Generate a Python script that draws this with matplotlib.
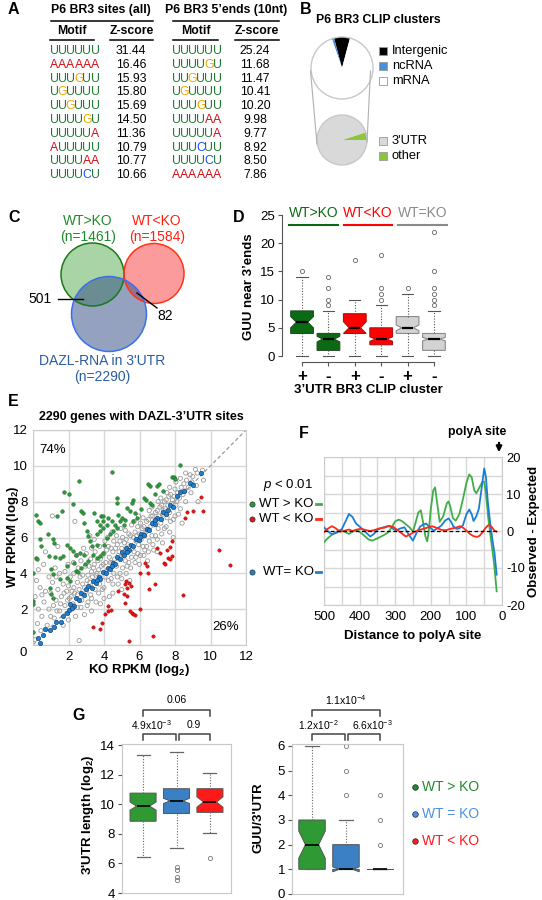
import numpy as np
import matplotlib
matplotlib.use('Agg')
import matplotlib.pyplot as plt
from matplotlib.patches import Circle, Rectangle

plt.rcParams['font.family'] = ['Liberation Sans', 'DejaVu Sans']
plt.rcParams['mathtext.fontset'] = 'custom'
plt.rcParams['mathtext.rm'] = 'Liberation Sans'
plt.rcParams['mathtext.it'] = 'Liberation Sans:italic'
plt.rcParams['mathtext.bf'] = 'Liberation Sans:bold'

W, H = 542, 900

# ---------------- data ----------------
# A : motif tables
motifs_all = ['UUUUUU', 'AAAAAA', 'UUUGUU', 'UGUUUU', 'UUGUUU', 'UUUUGU', 'UUUUUA', 'AUUUUU', 'UUUUAA', 'UUUUCU']
z_all = [31.44, 16.46, 15.93, 15.80, 15.69, 14.50, 11.36, 10.79, 10.77, 10.66]
motifs_5p = ['UUUUUU', 'UUUUGU', 'UUGUUU', 'UGUUUU', 'UUUGUU', 'UUUUAA', 'UUUUUA', 'UUUCUU', 'UUUUCU', 'AAAAAA']
z_5p = [25.24, 11.68, 11.47, 10.41, 10.20, 9.98, 9.77, 8.92, 8.50, 7.86]
nt_colors = {'U': '#1e7b34', 'A': '#d0101a', 'G': '#f0a800', 'C': '#1a4cff'}

# B : pies
pie1_labels = ['Intergenic', 'ncRNA', 'mRNA']
pie1_vals = [8.3, 1.2, 90.5]
pie1_cols = ['#000000', '#4a8fd8', '#ffffff']
pie2_labels = ["3'UTR", 'other']
pie2_vals = [95.0, 5.0]
pie2_cols = ['#d9d9d9', '#8cc63e']

# C : venn
venn_labels = ['WT>KO\n(n=1461)', 'WT<KO\n(n=1584)', "DAZL-RNA in 3'UTR\n(n=2290)"]
venn_overlaps = ['501', '82']

# D : GUU near 3' ends
d_groups = ['WT>KO', 'WT<KO', 'WT=KO']
d_ticklabels = ['+', '-', '+', '-', '+', '-']
d_med = [6, 3, 5, 3, 5, 3]
d_q1 = [4, 1, 4, 2, 4, 1]
d_q3 = [8, 4, 7.5, 5, 7, 4]
d_lo = [0, 0, 0, 0, 0, 0]
d_hi = [14, 8, 10, 9, 11, 8]
d_cilo = [5.0, 2.5, 4.0, 2.6, 4.5, 2.7]
d_cihi = [7.0, 3.5, 6.1, 3.4, 5.5, 3.3]
d_fliers = [[15], [9, 10, 12, 14], [17], [10, 11, 12, 18], [12], [9, 10, 11, 12, 15, 22]]

# E : scatter WT vs KO (log2 RPKM)
grey_pts = [
    (0.1, 0.3), (0.25, 1.2), (0.3, 2.0), (0.12, 2.7), (0.4, 3.2), (0.2, 3.6), (0.5, 1.6), (0.62, 2.4),
    (0.7, 3.0), (0.8, 1.1), (0.9, 2.0), (1.0, 2.9), (1.1, 3.5), (1.2, 1.5), (1.3, 2.5), (1.4, 3.1),
    (1.5, 1.9), (1.6, 2.7), (1.7, 3.4), (1.8, 2.2), (1.9, 3.0), (1.5, 4.0), (1.25, 4.3), (0.9, 3.8),
    (0.3, 4.2), (0.6, 4.5), (1.8, 4.1), (2.0, 1.4), (2.2, 2.0), (2.4, 1.6), (2.7, 2.1), (2.9, 1.7),
    (3.1, 2.4), (2.6, 0.25), (2.3, 3.2), (2.1, 3.8), (2.5, 2.8), (2.8, 3.4), (2.36, 6.9), (1.09, 7.2),
    (0.7, 5.2), (1.4, 5.5),
    (2.05, 2.6), (1.97, 4.5), (2.25, 2.3), (2.2, 3.0), (2.3, 4.0), (2.28, 4.6),
    (2.5, 3.5), (2.55, 4.3), (2.45, 5.0), (2.75, 2.5), (2.8, 3.9), (2.7, 4.7), (2.85, 5.4),
    (3.0, 3.0), (3.05, 3.6), (2.95, 4.4), (3.0, 5.1), (3.05, 2.2),
    (3.25, 2.8), (3.2, 3.5), (3.3, 4.1), (3.25, 4.8), (3.3, 5.4), (3.2, 6.1),
    (3.5, 3.1), (3.55, 3.9), (3.45, 4.5), (3.5, 5.2), (3.55, 2.4), (3.45, 5.9),
    (3.75, 3.4), (3.7, 4.2), (3.8, 4.8), (3.75, 5.5), (3.7, 2.9),
    (4.0, 3.2), (4.05, 3.8), (3.95, 4.5), (4.0, 5.1), (4.05, 5.8), (4.0, 2.6),
    (4.25, 3.6), (4.2, 4.2), (4.3, 4.9), (4.25, 5.5), (4.2, 6.0),
    (4.5, 3.4), (4.55, 4.0), (4.45, 4.6), (4.5, 5.2), (4.55, 5.8), (4.45, 6.3), (4.5, 2.9),
    (4.75, 3.8), (4.7, 4.4), (4.8, 5.0), (4.75, 5.6), (4.7, 6.1),
    (5.0, 3.7), (5.05, 4.3), (4.95, 4.9), (5.0, 5.4), (5.05, 6.0), (4.95, 6.5), (5.0, 3.1),
    (5.25, 4.0), (5.2, 4.7), (5.3, 5.3), (5.25, 5.9), (5.2, 6.4),
    (5.5, 4.3), (5.55, 4.9), (5.45, 5.5), (5.5, 6.1), (5.55, 6.7), (5.45, 3.6),
    (5.75, 4.6), (5.7, 5.2), (5.8, 5.8), (5.75, 6.3), (5.7, 6.9),
    (6.0, 4.5), (6.05, 5.0), (5.95, 5.6), (6.0, 6.2), (6.05, 6.8), (5.95, 7.2),
    (6.25, 5.0), (6.2, 5.5), (6.3, 6.1), (6.25, 6.6), (6.2, 7.1),
    (6.5, 5.2), (6.55, 5.8), (6.45, 6.4), (6.5, 7.0), (6.55, 7.5), (6.45, 4.7),
    (6.75, 5.6), (6.7, 6.1), (6.8, 6.7), (6.75, 7.2), (6.7, 7.7),
    (7.0, 5.9), (7.05, 6.5), (6.95, 7.0), (7.0, 7.5), (7.05, 8.0), (7.0, 5.2),
    (7.25, 6.2), (7.2, 6.8), (7.3, 7.3), (7.25, 7.8), (7.2, 8.2),
    (7.5, 6.6), (7.55, 7.1), (7.45, 7.6), (7.5, 8.1), (7.55, 8.5),
    (7.75, 6.9), (7.7, 7.4), (7.8, 7.9), (7.75, 8.4), (7.7, 8.8),
    (8.0, 7.2), (8.05, 7.8), (7.95, 8.3), (8.0, 8.7), (8.05, 9.1),
    (8.3, 7.6), (8.25, 8.2), (8.35, 8.8), (8.3, 9.3),
    (8.6, 8.0), (8.55, 8.6), (8.65, 9.2), (8.6, 9.6),
    (8.9, 8.5), (8.95, 9.1), (8.85, 9.5), (9.2, 8.9), (9.25, 9.6), (9.15, 9.8), (9.6, 9.2),
    (8.4, 6.8), (7.9, 6.0), (9.3, 8.0), (9.55, 9.75),
    (1.0, 1.6), (1.15, 2.2), (1.35, 1.9), (1.55, 2.3), (1.75, 2.9), (1.95, 2.5), (2.15, 2.7), (2.35, 2.9),
    (2.6, 3.1), (2.65, 3.8), (2.9, 3.2), (3.1, 3.9), (3.15, 4.4), (3.35, 3.8), (3.4, 4.3), (3.6, 4.0),
    (3.65, 4.7), (3.85, 4.4), (3.9, 5.0), (4.1, 4.6), (4.15, 5.3), (4.35, 4.6), (4.4, 5.4), (4.6, 4.8),
    (4.65, 5.4), (4.85, 5.2), (4.9, 5.8), (5.1, 5.0), (5.15, 5.7), (5.35, 5.6), (5.4, 6.2), (5.6, 5.4),
    (5.65, 6.0), (5.85, 6.1), (5.9, 6.6), (6.1, 5.9), (6.15, 6.5), (6.35, 6.3), (6.4, 6.9), (6.6, 6.6),
    (6.65, 7.2), (6.85, 6.9), (6.9, 7.4), (7.1, 7.2), (7.15, 7.7), (7.35, 7.5), (7.4, 8.0), (7.6, 7.8),
    (7.65, 8.3), (7.85, 8.1), (8.1, 8.0), (8.15, 8.5), (8.45, 8.4), (8.5, 9.0), (8.75, 8.8), (9.0, 9.4),
    (3.3, 2.6), (3.9, 3.1), (4.4, 3.7), (4.9, 4.0), (5.4, 4.6), (5.9, 5.1), (6.4, 5.5), (6.9, 6.1),
    (7.4, 6.5), (7.9, 7.0), (8.2, 7.3), (2.0, 3.3), (1.3, 3.8), (0.5, 2.8), (0.45, 0.8), (1.7, 1.1),
    (2.5, 2.1), (3.3, 1.9), (3.8, 2.3), (4.3, 2.7), (4.8, 3.4), (5.3, 4.4), (5.8, 4.9), (6.3, 5.3),
    (6.8, 5.3), (7.3, 5.7), (7.7, 6.3),
]
green_pts = [
    (8.26, 10.05), (4.47, 9.63), (2.6, 9.17), (1.75, 8.54), (2.02, 8.43), (2.26, 7.87),
    (0.15, 7.24), (0.28, 6.9), (0.38, 6.8), (1.64, 7.5), (1.38, 7.2), (2.7, 7.46), (2.8, 7.37),
    (3.43, 7.37), (3.83, 7.2), (3.96, 7.2), (4.72, 8.2), (4.72, 7.9), (5.66, 8.07), (5.57, 7.93),
    (6.5, 9.0), (6.6, 8.9), (6.98, 8.85), (7.1, 8.98), (7.83, 9.4), (7.96, 9.4), (8.0, 9.28),
    (6.26, 8.2), (6.38, 8.07), (6.6, 7.93), (6.68, 7.83), (5.28, 7.65), (5.47, 7.46), (5.75, 7.37),
    (5.85, 7.1), (5.66, 6.9), (4.9, 6.9), (5.1, 6.72), (4.53, 6.35), (4.34, 6.17), (4.15, 5.98),
    (0.38, 5.9), (0.47, 5.5), (0.85, 6.17), (1.13, 5.9), (1.17, 5.7), (0.15, 4.87), (0.23, 4.78),
    (0.9, 4.96), (1.23, 4.9), (1.5, 4.87), (1.7, 4.96), (1.89, 5.6), (2.08, 5.42), (2.26, 5.24),
    (2.45, 5.05), (2.64, 5.15), (3.02, 6.35), (3.11, 6.07), (3.2, 5.8), (3.3, 5.52), (3.58, 6.17),
    (3.77, 6.35), (3.96, 6.54), (4.15, 6.72), (3.4, 5.05), (3.58, 4.87), (3.77, 4.96), (3.96, 5.15),
    (2.92, 4.5), (2.73, 4.3), (2.45, 4.15), (2.55, 4.06), (1.04, 4.22), (1.13, 3.95), (1.5, 3.67),
    (1.89, 3.76), (2.08, 3.57), (0.02, 4.04), (0.02, 2.46), (0.02, 2.28), (1.04, 2.83), (1.13, 2.65),
    (0.94, 3.2), (3.58, 6.91), (3.77, 6.72), (3.96, 6.91), (4.25, 7.1), (4.43, 6.91), (4.62, 6.72),
    (4.72, 6.54), (4.81, 7.28), (5.0, 7.1), (5.19, 7.0), (0.02, 0.73),
    (2.9, 5.0), (3.1, 4.7), (3.6, 5.6), (4.0, 5.6), (2.3, 4.6), (1.9, 4.4), (2.9, 6.8),
    (6.1, 7.6), (6.9, 8.4), (7.3, 8.6),
]
red_pts = [
    (9.49, 8.26), (9.57, 7.46), (9.02, 7.46), (8.68, 7.43), (8.55, 7.1), (7.85, 5.8), (7.74, 5.46),
    (7.55, 5.33), (6.98, 5.43), (7.17, 5.15), (7.6, 4.87), (7.7, 4.78), (7.36, 4.6), (7.45, 4.5),
    (7.83, 4.96), (6.32, 4.6), (6.4, 4.4), (6.04, 4.04), (6.5, 4.04), (6.89, 3.43), (6.55, 3.11),
    (5.25, 3.6), (5.4, 3.48), (5.2, 3.39), (5.5, 3.3), (5.3, 3.2), (4.81, 3.0), (5.1, 2.83), (5.28, 2.74),
    (5.19, 2.37), (8.45, 2.78), (10.5, 5.33), (11.1, 4.46), (4.25, 2.19), (4.05, 1.75), (5.57, 1.8),
    (5.75, 1.7), (6.04, 2.0), (4.2, 1.92), (4.38, 1.95), (5.46, 1.9), (5.63, 1.73), (3.88, 1.23),
    (3.38, 1.0), (3.77, 0.9), (5.4, 0.22), (6.76, 0.5),
]
blue_pts = [
    (0.4, 0.1), (0.3, 0.4), (0.55, 0.55), (0.7, 0.9), (0.95, 0.85), (1.2, 1.0), (1.3, 1.3), (1.6, 1.3),
    (1.7, 1.6), (1.9, 1.8), (2.0, 1.95), (2.1, 2.3), (2.3, 2.2), (2.4, 2.6), (2.6, 2.5), (2.7, 2.9),
    (2.9, 2.8), (3.0, 3.1), (3.1, 3.3), (3.3, 3.2), (3.4, 3.6), (3.55, 3.45), (3.7, 3.8), (3.8, 3.7),
    (3.95, 4.1), (4.1, 4.0), (4.2, 4.3), (4.35, 4.25), (4.5, 4.6), (4.6, 4.5), (4.75, 4.9), (4.9, 4.8),
    (5.0, 5.2), (5.1, 5.05), (5.25, 5.4), (5.4, 5.3), (5.5, 5.6), (5.65, 5.55), (5.8, 5.9), (5.95, 5.85),
    (6.1, 6.2), (6.25, 6.15), (6.4, 6.5), (6.55, 6.4), (6.7, 6.8), (6.85, 6.75), (7.0, 7.1), (7.2, 7.05),
    (7.35, 7.4), (7.5, 7.3), (7.7, 7.8), (7.9, 7.7), (8.1, 8.3), (8.26, 8.52), (8.49, 8.58),
    (8.87, 9.04), (9.02, 8.95), (9.46, 9.6), (2.2, 2.05), (3.6, 3.65), (4.45, 4.4), (5.3, 5.2),
    (6.0, 6.05), (6.9, 6.95), (7.6, 7.55),
]
e_ticks = [0, 2, 4, 6, 8, 10, 12]

# F : observed - expected near polyA site
f_green_d = [500, 490, 475, 460, 450, 440, 430, 420, 410, 400, 390, 375, 365, 350, 340, 330, 320, 310,
             300, 290, 280, 270, 260, 250, 245, 235, 228, 222, 215, 210, 205, 200, 193, 188, 180, 175,
             165, 155, 150, 145, 138, 130, 120, 110, 100, 92, 85, 78, 72, 65, 55, 50, 45, 38, 30, 22, 15]
f_green_v = [-3.0, -2.0, -0.8, 0.0, 0.3, -0.3, -0.8, -0.2, 0.3, -0.2, -1.0, -2.3, -2.6, -2.0, -1.5, -1.0,
             -0.4, 1.0, 2.6, 3.1, 2.6, 1.8, 1.0, -0.1, 1.5, 5.0, 5.6, 2.5, -1.5, -2.8, 0.5, 6.0, 11.0,
             11.8, 6.0, 2.5, 4.0, 7.5, 8.0, 6.5, 3.5, 2.8, 4.5, 8.5, 13.0, 15.3, 14.5, 11.0, 10.2, 11.5,
             13.3, 13.3, 10.0, 3.0, -3.0, -9.0, -16.3]
f_blue_d = [500, 490, 478, 465, 450, 440, 430, 420, 410, 400, 390, 380, 370, 360, 350, 340, 325, 315,
            305, 297, 285, 274, 262, 250, 240, 230, 220, 213, 205, 192, 180, 170, 160, 150, 143, 137,
            128, 120, 110, 100, 92, 85, 80, 72, 65, 58, 50, 45, 40, 33, 26, 21, 15]
f_blue_v = [1.0, 0.0, -0.9, -0.5, 0.5, 2.5, 4.6, 3.8, 2.0, 1.2, 0.3, -0.6, -1.5, -0.8, 0.3, 0.8, 1.2,
            1.3, 0.5, 0.2, 0.7, 1.0, -1.0, -2.6, -0.5, 1.2, 1.8, 2.0, 1.2, 0.1, 0.8, 1.5, 2.8, 3.4, 2.5,
            1.3, 0.6, 0.7, 1.5, 4.5, 5.8, 4.5, 2.7, 4.0, 6.0, 11.0, 16.9, 14.5, 8.0, 2.0, -3.0, -6.0, -11.8]
f_red_d = [500, 490, 478, 468, 455, 445, 430, 420, 408, 395, 385, 370, 357, 345, 330, 318, 305, 295,
           282, 270, 258, 245, 232, 220, 210, 197, 185, 170, 158, 148, 140, 130, 118, 108, 100, 90, 80,
           70, 63, 55, 48, 40, 35, 28, 22, 15]
f_red_v = [-0.3, 0.6, 1.3, 0.8, -0.2, 0.0, 0.4, 0.0, 0.4, 0.6, 0.3, 0.0, 0.3, 0.7, 0.9, 1.4, 1.1, 0.3,
           -0.6, -1.5, -0.9, -0.2, 0.3, 0.6, 0.9, 1.3, 0.9, 0.3, 0.2, 0.5, 0.7, 0.9, 1.3, 0.8, 0.1, -0.8,
           -1.4, -1.6, -1.3, -0.4, 0.6, 1.5, 1.6, 1.0, 0.2, -0.2]
f_xticks = [500, 400, 300, 200, 100, 0]
f_yticks = [20, 10, 0, -10, -20]

# G : 3'UTR length and GUU/3'UTR
g_labels = ['WT > KO', 'WT = KO', 'WT < KO']
g_colors = ['#2f9a33', '#3b7fc4', '#ff1a1a']
g1_med = [9.87, 10.22, 10.15]
g1_q1 = [8.85, 9.37, 9.45]
g1_q3 = [10.75, 11.05, 11.05]
g1_lo = [6.42, 7.03, 8.04]
g1_hi = [13.35, 13.52, 12.08]
g1_cilo = [9.6, 10.05, 9.8]
g1_cihi = [10.15, 10.4, 10.5]
g1_fliers = [[], [5.78, 5.55, 5.1, 4.85], [6.38]]
g1_pvals = ['4.9x10$^{-3}$', '0.9', '0.06']
g2_med = [2, 1, 1]
g2_q1 = [1, 1, 1]
g2_q3 = [3, 2, 1]
g2_lo = [1, 1, 1]
g2_hi = [6, 3, 1]
g2_cilo = [1.45, 0.9, 1]
g2_cihi = [2.55, 1.1, 1]
g2_fliers = [[], [4, 5, 6], [2, 3, 4]]
g2_pvals = ['1.2x10$^{-2}$', '6.6x10$^{-3}$', '1.1x10$^{-4}$']

# ---------------- figure ----------------
fig = plt.figure(figsize=(W / 100, H / 100), dpi=100)


def axpx(l, t, w, h):
    return fig.add_axes([l / W, 1 - (t + h) / H, w / W, h / H])


ov = fig.add_axes([0, 0, 1, 1])
ov.set_xlim(0, W)
ov.set_ylim(H, 0)
ov.axis('off')
ov.set_zorder(5)


def txt(x, y, s, **kw):
    kw.setdefault('ha', 'center')
    kw.setdefault('va', 'center')
    kw.setdefault('fontsize', 9)
    ov.text(x, y, s, **kw)


# panel letters
for lab, (x, y) in zip('ABCDEFG', [(8, 9), (300, 9), (8, 218), (233, 218), (8, 402), (299, 433), (72, 716)]):
    txt(x, y, lab, ha='left', fontsize=11.5, fontweight='bold')

# ---- A ----
step = 8.2
for motifs, zs, x0, zc, title, tx, (ul0, ul1), (m0, m1), (z0, z1) in [
        (motifs_all, z_all, 50, 131, 'P6 BR3 sites (all)', 101, (51, 153), (50, 94), (110, 153)),
        (motifs_5p, z_5p, 172, 255, "P6 BR3 5\u2019ends (10nt)", 226, (173, 279), (173, 218), (235, 279))]:
    txt(tx, 10, title, fontsize=8.8, fontweight='bold')
    ov.plot([ul0, ul1], [21, 21], color='k', lw=1.1)
    txt((m0 + m1) / 2, 31, 'Motif', fontsize=8.8, fontweight='bold')
    txt((z0 + z1) / 2, 31, 'Z-score', fontsize=8.8, fontweight='bold')
    ov.plot([m0, m1], [39.5, 39.5], color='k', lw=1.1)
    ov.plot([z0, z1], [39.5, 39.5], color='k', lw=1.1)
    for i, (m, z) in enumerate(zip(motifs, zs)):
        y = 51 + i * 13.8
        for j, ch in enumerate(m):
            txt(x0 + (j + 0.5) * step, y, ch, fontsize=8.8, color=nt_colors[ch])
        txt(zc, y, '%.2f' % z, fontsize=8.8)

# ---- B ----
txt(316, 20, 'P6 BR3 CLIP clusters', ha='left', fontsize=8.8, fontweight='bold')
axp1 = axpx(311, 37, 62, 62)
axp1.pie(pie1_vals, colors=pie1_cols, startangle=75, counterclock=True, radius=1,
         wedgeprops=dict(edgecolor='none'))
axp1.add_patch(Circle((0, 0), 1, fill=False, ec='#c8c8c8', lw=1, clip_on=False))
axp1.set_xlim(-1, 1)
axp1.set_ylim(-1, 1)
axp2 = axpx(317, 115, 50, 50)
axp2.pie(pie2_vals[::-1], colors=pie2_cols[::-1], startangle=0, counterclock=True, radius=1,
         wedgeprops=dict(edgecolor='none'))
axp2.add_patch(Circle((0, 0), 1, fill=False, ec='#c8c8c8', lw=1, clip_on=False))
axp2.set_xlim(-1, 1)
axp2.set_ylim(-1, 1)
ov.plot([310.5, 317], [71, 144], color='#b0b0b0', lw=0.8)
ov.plot([370.5, 367], [71, 142], color='#b0b0b0', lw=0.8)
for lab, col, y in zip(pie1_labels + pie2_labels, pie1_cols + pie2_cols, [51, 66, 81, 141, 156]):
    ov.add_patch(Rectangle((379, y - 4), 8, 8, fc=col, ec='#999999', lw=0.6))
    txt(392, y, lab, ha='left', fontsize=9.3)

# ---- C ----
venn_face = ['#a9d4a5', '#fc9b9b', (0.17, 0.28, 0.51, 0.5)]
venn_edge = ['#1a7a1a', '#ff3515', '#3b6ff0']
venn_xy = [(92.5, 274.5), (154, 273.5), (109, 314)]
venn_r = [31.5, 30, 37.5]
for (cx, cy), r, fc in zip(venn_xy, venn_r, venn_face):
    ov.add_patch(Circle((cx, cy), r, fc=fc, ec='none'))
for (cx, cy), r, ec in zip(venn_xy, venn_r, venn_edge):
    ov.add_patch(Circle((cx, cy), r, fc='none', ec=ec, lw=1.1))
txt(88, 229, venn_labels[0], color='#1f8a2a', fontsize=10, linespacing=1.15)
txt(157, 229, venn_labels[1], color='#ff2010', fontsize=10, linespacing=1.15)
txt(102, 369, venn_labels[2], color='#2a5d9f', fontsize=10, linespacing=1.15)
ov.plot([58, 83], [299, 299], color='k', lw=1)
txt(52, 299, venn_overlaps[0], ha='right', fontsize=10)
ov.plot([137, 157], [293, 308], color='k', lw=1)
txt(165, 316, venn_overlaps[1], fontsize=10)

# ---- D ----
axD = axpx(282, 209.4, 172, 152.6)
d_pos = np.arange(1, len(d_med) + 1)
d_stats = [dict(med=m, q1=a, q3=b, whislo=lo, whishi=hi, fliers=f, cilo=cl, cihi=ch)
           for m, a, b, lo, hi, f, cl, ch in zip(d_med, d_q1, d_q3, d_lo, d_hi, d_fliers, d_cilo, d_cihi)]
bp = axD.bxp(d_stats, positions=d_pos, widths=0.86, shownotches=True, patch_artist=True,
             manage_ticks=False,
             whiskerprops=dict(color='#555555', lw=0.8, ls=(0, (1, 1.5))),
             capprops=dict(color='#555555', lw=0.8),
             medianprops=dict(color='k', lw=1.6),
             flierprops=dict(marker='o', markersize=3, mfc='none', mec='#666666', mew=0.6))
d_face = ['#0b6b12', '#0b6b12', '#ff0000', '#ff0000', '#d3d3d3', '#d3d3d3']
d_edge = ['#284a28', '#284a28', '#b01010', '#b01010', '#8a8a8a', '#8a8a8a']
for patch, fc, ec in zip(bp['boxes'], d_face, d_edge):
    patch.set_facecolor(fc)
    patch.set_edgecolor(ec)
    patch.set_linewidth(0.8)
axD.set_xlim(0.24, 6.76)
axD.set_ylim(-1.06, 26)
for s in ['top', 'right']:
    axD.spines[s].set_visible(False)
axD.spines['left'].set_bounds(0, 25)
axD.spines['bottom'].set_bounds(1, 6)
for s in ['left', 'bottom']:
    axD.spines[s].set_color('#555555')
axD.set_yticks([0, 5, 10, 15, 20, 25])
axD.set_xticks(d_pos)
axD.set_xticklabels(d_ticklabels, fontsize=12, fontweight='bold')
axD.tick_params(axis='y', labelsize=9.5, length=3, color='#555555', pad=2)
axD.tick_params(axis='x', length=3, color='#555555', pad=2)
axD.patch.set_alpha(0)
txt(249, 287, "GUU near 3\u2019ends", rotation=90, fontsize=9.5, fontweight='bold')
txt(368, 390, "3\u2019UTR BR3 CLIP cluster", fontsize=9.5, fontweight='bold')
for g, col, (a, b) in zip(d_groups, ['#0b6b12', '#ff0000', '#8a8a8a'], [(289, 338), (344, 392), (398, 447)]):
    txt((a + b) / 2, 213, g, color=col, fontsize=10)
    ov.plot([a, b], [225, 225], color=col, lw=1.5)

# ---- E ----
axE = axpx(33, 430, 213, 215)
gx, gy = np.array(grey_pts).T
axE.scatter(gx, gy, s=9, facecolors='none', edgecolors='#9a9a9a', linewidths=0.6, zorder=3)
grx, gry = np.array(green_pts).T
axE.scatter(grx, gry, s=7, c='#2a9a3a', edgecolors='#1a5a1a', linewidths=0.3, zorder=4)
rx, ry = np.array(red_pts).T
axE.scatter(rx, ry, s=6, c='#ee1010', edgecolors='#8a0a0a', linewidths=0.3, zorder=4)
bx, by = np.array(blue_pts).T
axE.scatter(bx, by, s=10, c='#1f7fd0', edgecolors='#0a3a6a', linewidths=0.4, zorder=5)
axE.plot(e_ticks[::6], e_ticks[::6], ls=(0, (3, 2)), color='#999999', lw=0.9, zorder=2)
axE.set_xlim(0, 12)
axE.set_ylim(0, 12)
axE.set_xticks(e_ticks)
axE.set_yticks(e_ticks)
axE.set_xticklabels([''] + [str(v) for v in e_ticks[1:]])
axE.set_yticklabels([''] + [str(v) for v in e_ticks[1:]])
axE.tick_params(length=0, labelsize=9.5, pad=4)
axE.grid(True, color='#d8d8d8', lw=1)
axE.set_axisbelow(True)
for s in axE.spines.values():
    s.set_color('#cccccc')
txt(23, 653, '0', fontsize=9.5)
txt(141, 417, "2290 genes with DAZL-3\u2019UTR sites", fontsize=9, fontweight='bold')
txt(53, 450, '74%', fontsize=9.5)
txt(226, 627, '26%', fontsize=9.5)
txt(13, 537, r'WT RPKM (log$_\mathbf{2}$)', rotation=90, fontsize=9.5, fontweight='bold')
txt(139, 670, r'KO RPKM (log$_\mathbf{2}$)', fontsize=9.5, fontweight='bold')

# legend between E and F
txt(288, 485, r'$p$ < 0.01', fontsize=9.5)
for y, s, dc, x0 in [(504, 'WT > KO', '#2a9a3a', 259), (519, 'WT < KO', '#ee1010', 259),
                     (572, 'WT= KO', '#1f7fd0', 263)]:
    ov.scatter([252], [y], s=14, c=dc, edgecolors='#333333', linewidths=0.5)
    txt(x0, y, s, ha='left', fontsize=9.5)
for y, lc in [(504, '#41ad49'), (519, '#ff2a1a'), (572, '#1a7fd4')]:
    ov.plot([316, 321], [y, y], color=lc, lw=2)

# ---- F ----
axF = axpx(324, 457, 178, 148)
axF.plot(f_green_d, f_green_v, color='#41ad49', lw=1.3, zorder=3)
axF.plot(f_blue_d, f_blue_v, color='#1a7fd4', lw=1.3, zorder=4)
axF.plot(f_red_d, f_red_v, color='#ff2a1a', lw=1.3, zorder=5)
axF.axhline(0, xmin=0, xmax=0.975, color='k', ls=(0, (3, 2)), lw=0.9, zorder=6)
axF.set_xlim(500, 0)
axF.set_ylim(-20, 20)
axF.set_xticks(np.arange(0, 501, 50))
axF.set_xticklabels(['' if v not in f_xticks else str(v) for v in np.arange(0, 501, 50)])
axF.set_yticks(np.arange(-20, 21, 5))
axF.set_yticklabels(['' if v not in f_yticks else str(v) for v in np.arange(-20, 21, 5)])
axF.yaxis.tick_right()
axF.tick_params(axis='x', length=0, labelsize=9.5, pad=4)
axF.tick_params(axis='y', length=0, labelsize=9.3, pad=3)
axF.grid(True, color='#d8d8d8', lw=1)
axF.set_axisbelow(True)
for s in axF.spines.values():
    s.set_color('#cccccc')
txt(534, 531, 'Observed - Expected', rotation=90, fontsize=9.5, fontweight='bold')
txt(413, 636, 'Distance to polyA site', fontsize=9.5, fontweight='bold')
txt(477, 432, 'polyA site', fontsize=8.8, fontweight='bold')
ov.annotate('', xy=(499, 455), xytext=(499, 440),
            arrowprops=dict(arrowstyle='-|>', color='k', lw=1.6, mutation_scale=8))


# ---- G ----
def gbox(ax, med, q1, q3, lo, hi, fl, cl, ch):
    st = [dict(med=m, q1=a, q3=b, whislo=w0, whishi=w1, fliers=f, cilo=c0, cihi=c1)
          for m, a, b, w0, w1, f, c0, c1 in zip(med, q1, q3, lo, hi, fl, cl, ch)]
    b = ax.bxp(st, positions=[1, 2, 3], widths=0.78, shownotches=True, patch_artist=True,
               manage_ticks=False,
               whiskerprops=dict(color='#666666', lw=0.8, ls=(0, (1, 1.5))),
               capprops=dict(color='#666666', lw=0.9),
               medianprops=dict(color='k', lw=1.2),
               flierprops=dict(marker='o', markersize=3, mfc='none', mec='#777777', mew=0.6))
    for patch, fc in zip(b['boxes'], g_colors):
        patch.set_facecolor(fc)
        patch.set_edgecolor('#555555')
        patch.set_linewidth(0.7)
    ax.set_xticks([])
    ax.tick_params(axis='y', length=3, color='#555555', labelsize=9.5, pad=2)
    for s in ax.spines.values():
        s.set_color('#c8c8c8')


axG1 = axpx(122, 744, 109, 149)
gbox(axG1, g1_med, g1_q1, g1_q3, g1_lo, g1_hi, g1_fliers, g1_cilo, g1_cihi)
axG1.set_xlim(0.37, 3.63)
axG1.set_ylim(4, 14.07)
axG1.set_yticks([4, 6, 8, 10, 12, 14])
txt(88, 815, r"3'UTR length (log$_\mathbf{2}$)", rotation=90, fontsize=9.5, fontweight='bold')

axG2 = axpx(292, 744, 111, 150)
gbox(axG2, g2_med, g2_q1, g2_q3, g2_lo, g2_hi, g2_fliers, g2_cilo, g2_cihi)
axG2.set_xlim(0.41, 3.68)
axG2.set_ylim(0, 6.08)
axG2.set_yticks([0, 1, 2, 3, 4, 5, 6])
txt(258, 818, "GUU/3'UTR", rotation=90, fontsize=9.5, fontweight='bold')

for (c1, c2, c3), pv, (xa, xb) in [((143, 177, 210), g1_pvals, (151, 194)),
                                   ((312, 346, 380), g2_pvals, (318, 372))]:
    ov.plot([c1, c1, c3, c3], [716, 710, 710, 716], color='#444444', lw=1.1)
    ov.plot([c1, c1, c2 - 1.5, c2 - 1.5], [740, 734, 734, 740], color='#444444', lw=1.1)
    ov.plot([c2 + 1.5, c2 + 1.5, c3, c3], [740, 734, 734, 740], color='#444444', lw=1.1)
    txt(xa, 725, pv[0], fontsize=7.4)
    txt(xb, 725, pv[1], fontsize=7.4)
    txt((c1 + c3) / 2, 700, pv[2], fontsize=7.6)

for lab, col, y in zip(g_labels, ['#1f8a2a', '#4a90e2', '#ff1a1a'], [787, 814, 841]):
    ov.scatter([415], [y], s=16, c=col, edgecolors='#222222', linewidths=0.5)
    txt(422, y, lab, ha='left', color=col, fontsize=10)

fig.savefig('out.png', dpi=100)
